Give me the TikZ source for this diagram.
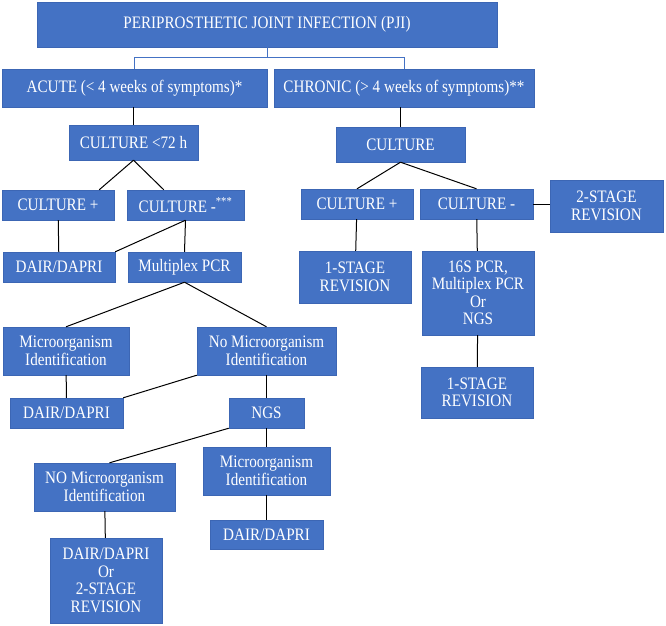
\documentclass[tikz,border=0pt]{standalone}
\usepackage{fontspec}
\setmainfont{Liberation Serif}[FakeStretch=0.865]
\usepackage{tikz}
\usetikzlibrary{positioning}

\definecolor{boxblue}{HTML}{4472C4}
\definecolor{boxline}{HTML}{3C66B4}

\begin{document}
\begin{tikzpicture}[
  x=1pt, y=-1pt,
  font=\fontsize{17.5}{17.5}\selectfont,
  box/.style 2 args={
    draw=boxline, fill=boxblue, text=white,
    align=center,
    inner sep=0pt,
    minimum width=#1pt, minimum height=#2pt
  },
  link/.style={draw=black, line width=1pt},
  bracket/.style={draw=boxblue, line width=1pt}
]
\useasboundingbox (0,0) rectangle (666,625);

% Root Node
\node[box={460}{45}] (pji) at (267,24.5) {PERIPROSTHETIC JOINT INFECTION (PJI)};

% Level 1 Branches
\node[box={265}{38}] (acute) at (134.5,88) {ACUTE (< 4 weeks of symptoms)*};
\node[box={260}{38}] (chronic) at (404,88) {CHRONIC (> 4 weeks of symptoms)**};

% Acute side
\node[box={129}{35}] (cult72) at (133.5,142.5) {CULTURE <72 h};
\node[box={112}{30}] (culpos) at (58,205) {CULTURE +};
\node[box={117}{30}] (culneg) at (185.5,205) {CULTURE -\textsuperscript{***}};
\node[box={112}{30}] (dairA) at (59,267) {DAIR/DAPRI};
\node[box={113}{30}] (mpcr) at (184.5,267) {Multiplex PCR};
\node[box={126}{48}] (microA) at (66,351) {Microorganism\\Identification};
\node[box={139}{48}] (nomicroA) at (266.5,351) {No Microorganism\\Identification};
\node[box={113}{30}] (dairB) at (66.5,413) {DAIR/DAPRI};
\node[box={75}{30}] (ngs) at (266.5,413) {NGS};
\node[box={141}{48}] (nomicroB) at (104.5,487) {NO Microorganism\\Identification};
\node[box={127}{48}] (microB) at (266.5,471) {Microorganism\\Identification};
\node[box={113}{29}] (dairC) at (266.5,534.5) {DAIR/DAPRI};
\node[box={112}{85}] (dairor) at (106,580.5) {DAIR/DAPRI\\Or\\2-STAGE\\REVISION};

% Chronic side
\node[box={129}{35}] (culture) at (400.5,144.5) {CULTURE};
\node[box={112}{30}] (rpos) at (357,204) {CULTURE +};
\node[box={113}{30}] (rneg) at (476.5,204) {CULTURE -};
\node[box={113}{52}] (twostage) at (606.5,206) {2-STAGE\\REVISION};
\node[box={112}{52}] (onestageA) at (355,277) {1-STAGE\\REVISION};
\node[box={112}{84}] (pcrs) at (478,293) {16S PCR,\\Multiplex PCR\\Or\\NGS};
\node[box={112}{51}] (onestageB) at (477,392.5) {1-STAGE\\REVISION};

% Edges
\draw[bracket] (pji.south) -- ++(0,10) -| (acute.north);
\draw[bracket] (pji.south) -- ++(0,10) -| (chronic.north);

\draw[link] (acute.south -| cult72.north) -- (cult72.north);
\draw[link] (cult72.south) -- ([xshift=-15pt]culpos.north east);
\draw[link] (cult72.south) -- ([xshift=37pt]culneg.north west);
\draw[link] (culpos) -- (dairA);
\draw[link] (culneg.south) -- (dairA.north east);
\draw[link] (culneg.south) -- (mpcr.north);
\draw[link] (mpcr.south) -- (microA.north);
\draw[link] (mpcr.south) -- (nomicroA.north);
\draw[link] (microA) -- (dairB);
\draw[link] (nomicroA.south west) -- (dairB.north east);
\draw[link] (nomicroA) -- (ngs);
\draw[link] (ngs.south west) -- ([xshift=5pt]nomicroB.north);
\draw[link] (ngs) -- (microB);
\draw[link] (microB) -- (dairC);
\draw[link] (nomicroB) -- (dairor);

\draw[link] (chronic.south -| culture.north) -- (culture.north);
\draw[link] (culture.south) -- (rpos.north);
\draw[link] (culture.south) -- (rneg.north);
\draw[link] (rneg.east) -- (rneg.east -| twostage.west);
\draw[link] (rpos) -- (onestageA);
\draw[link] (rneg) -- (pcrs);
\draw[link] (pcrs) -- (onestageB);

\end{tikzpicture}
\end{document}
